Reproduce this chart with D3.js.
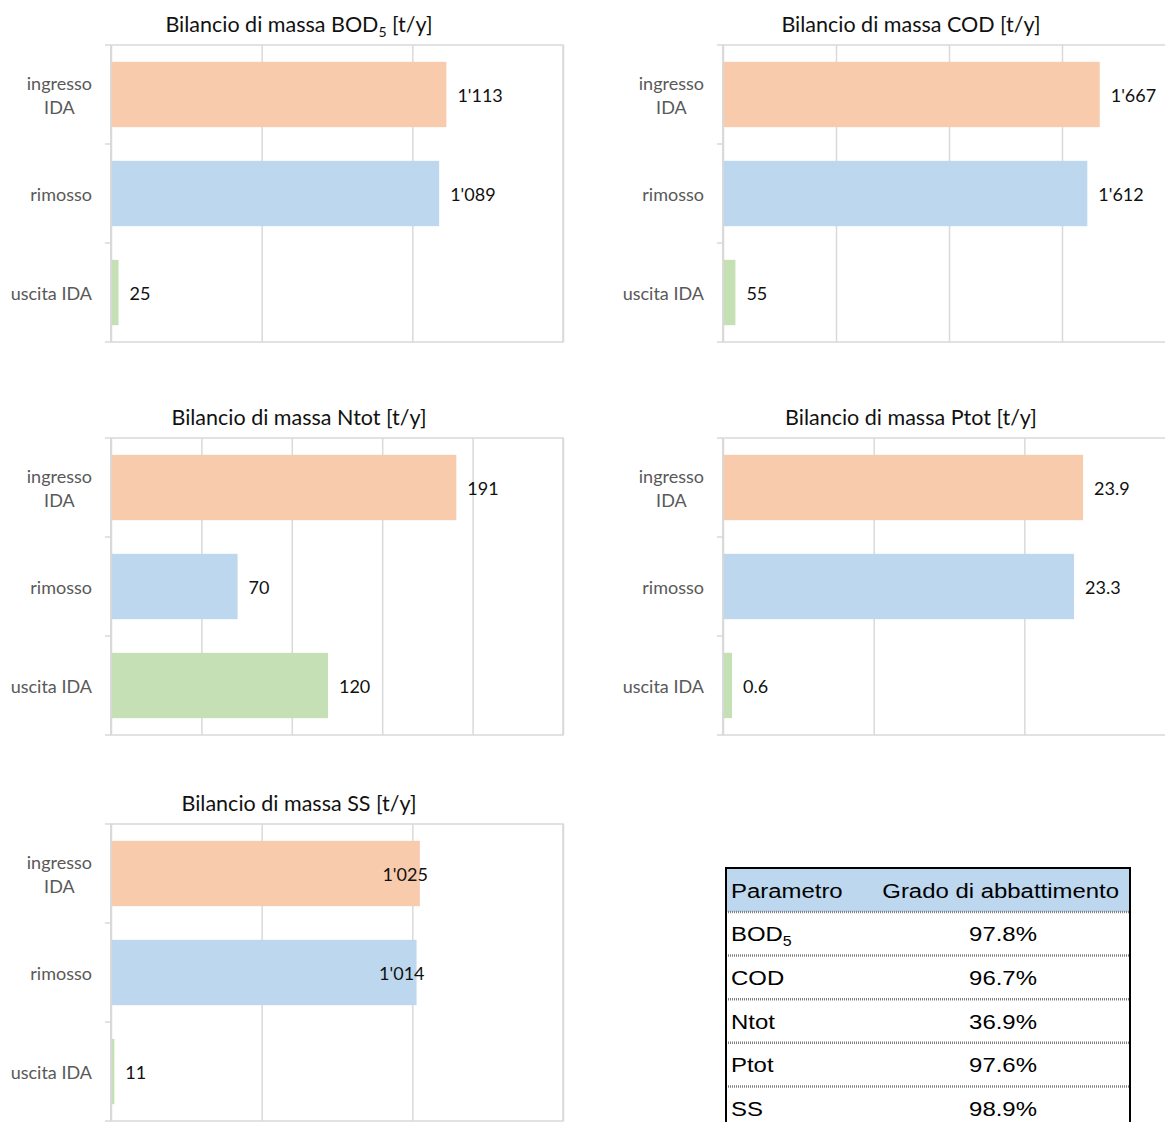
<!DOCTYPE html>
<html>
<head>
<meta charset="utf-8">
<script src="https://cdn.jsdelivr.net/npm/d3@7"></script>
<style>
  body { margin: 0; background: #fff; }
  svg { display: block; }
  .title { font-family: Lato, "Open Sans", sans-serif; font-size: 21.5px; fill: #111; }
  .cat { font-family: Lato, "Open Sans", sans-serif; font-size: 18px; fill: #595959; }
  .lbl { font-family: Lato, "Open Sans", sans-serif; font-size: 18px; fill: #111; }
  .tbl { font-family: "Liberation Sans", Arial, sans-serif; font-size: 21px; fill: #000; }
</style>
</head>
<body>
<div id="chart"></div>
<script>
// categories (multi-line labels)
var categories = ["ingresso IDA", "rimosso", "uscita IDA"];
var categoryLines = [["ingresso", "IDA"], ["rimosso"], ["uscita IDA"]];
var colors = ["#f8cbad", "#bdd7ee", "#c5e0b4"];

// values [t/y]
var bod5 = [1113, 1089, 25];
var cod = [1667, 1612, 55];
var ntot = [191, 70, 120];
var ptot = [23.9, 23.3, 0.6];
var ss = [1025, 1014, 11];

// axis maxima and tick steps
var axisMax = [1500, 2000, 250, 30, 1500];
var axisStep = [500, 500, 50, 10, 500];

// table
var tableParams = ["BOD5", "COD", "Ntot", "Ptot", "SS"];
var tableValues = [97.8, 96.7, 36.9, 97.6, 98.9];

var W = 1165, H = 1122;
var plotW = 452, plotH = 297;

var loc = d3.formatLocale({decimal: ".", thousands: "'", grouping: [3], currency: ["", ""]});
var fmtInt = loc.format(",.0f");
var fmtDec = loc.format(".1f");

var charts = [
  {title: "Bilancio di massa BOD", sub: "5", rest: " [t/y]", values: bod5, fmt: fmtInt, x0: 111, y0: 45, inside: false},
  {title: "Bilancio di massa COD [t/y]", values: cod, fmt: fmtInt, x0: 723, y0: 45, inside: false},
  {title: "Bilancio di massa Ntot [t/y]", values: ntot, fmt: fmtInt, x0: 111, y0: 438, inside: false},
  {title: "Bilancio di massa Ptot  [t/y]", values: ptot, fmt: fmtDec, x0: 723, y0: 438, inside: false},
  {title: "Bilancio di massa SS [t/y]", values: ss, fmt: fmtInt, x0: 111, y0: 824, inside: true}
];

var svg = d3.select("#chart").append("svg")
  .attr("width", W).attr("height", H);

svg.append("rect").attr("width", W).attr("height", H).attr("fill", "#fff");

charts.forEach(function(c, ci) {
  var g = svg.append("g").attr("transform", "translate(" + c.x0 + "," + c.y0 + ")");
  var x = d3.scaleLinear().domain([0, axisMax[ci]]).range([0, plotW]);
  var y = d3.scaleBand().domain(categories).range([0, plotH]).paddingInner(0.34).paddingOuter(0.17);

  // gridlines
  var ticks = d3.range(0, axisMax[ci] + axisStep[ci] / 2, axisStep[ci]);
  g.append("g")
    .call(d3.axisBottom(x).tickValues(ticks).tickSize(-plotH).tickFormat(""))
    .attr("transform", "translate(0," + plotH + ")")
    .call(function(a) {
      a.select(".domain").remove();
      a.selectAll("line").attr("stroke", "#d9d9d9").attr("stroke-width", 1.5);
    });

  // plot border (top / bottom / right)
  g.append("rect")
    .attr("x", 0).attr("y", 0).attr("width", plotW).attr("height", plotH)
    .attr("fill", "none").attr("stroke", "#d9d9d9").attr("stroke-width", 1.5);

  // category tick marks
  var step = y.step();
  d3.range(0, 4).forEach(function(i) {
    g.append("line")
      .attr("x1", -6).attr("x2", 0)
      .attr("y1", i * step).attr("y2", i * step)
      .attr("stroke", "#d9d9d9").attr("stroke-width", 1.5);
  });

  // bars
  g.selectAll("rect.bar")
    .data(c.values)
    .enter().append("rect")
    .attr("class", "bar")
    .attr("x", 0)
    .attr("y", function(d, i) { return y(categories[i]); })
    .attr("width", function(d) { return x(d); })
    .attr("height", y.bandwidth())
    .attr("fill", function(d, i) { return colors[i]; });

  // axis line on top of bars
  g.append("line").attr("x1", 0).attr("x2", 0).attr("y1", 0).attr("y2", plotH)
    .attr("stroke", "#d9d9d9").attr("stroke-width", 1.5);

  // data labels
  g.selectAll("text.lbl")
    .data(c.values)
    .enter().append("text")
    .attr("class", "lbl")
    .attr("x", function(d, i) { return c.inside && i < 2 ? x(d) + 8 : x(d) + 11; })
    .attr("y", function(d, i) { return y(categories[i]) + y.bandwidth() / 2 + 1; })
    .attr("dy", "0.35em")
    .attr("text-anchor", function(d, i) { return c.inside && i < 2 ? "end" : "start"; })
    .text(function(d) { return c.fmt(d); });

  // category labels
  categories.forEach(function(cat, i) {
    var lines = categoryLines[i];
    var cy = y(cat) + y.bandwidth() / 2 + 1;
    var t = g.append("text").attr("class", "cat");
    lines.forEach(function(l, j) {
      t.append("tspan").text(l)
        .attr("y", cy + (j - (lines.length - 1) / 2) * 24)
        .attr("dy", "0.35em");
    });
    var maxW = 0;
    t.selectAll("tspan").each(function() { maxW = Math.max(maxW, this.getComputedTextLength()); });
    t.attr("text-anchor", "middle");
    t.selectAll("tspan").attr("x", -19 - maxW / 2);
  });

  // title
  var tt = svg.append("text").attr("class", "title")
    .attr("x", c.x0 + 188).attr("y", c.y0 - 21).attr("dy", "0.35em")
    .attr("text-anchor", "middle");
  tt.append("tspan").text(c.title);
  if (c.sub) {
    tt.append("tspan").text(c.sub).attr("font-size", "14px").attr("dy", "5");
    tt.append("tspan").text(c.rest).attr("dy", "-5");
  }
});

// table
var tx = 726, tw = 404, tTop = 868, hdrH = 44, rowH = 43.6;
var sx = 1.14; // Arial in the reference is stretched horizontally
var tg = svg.append("g");
tg.append("rect").attr("x", tx).attr("y", tTop).attr("width", tw).attr("height", hdrH)
  .attr("fill", "#bdd7ee");

function cellText(x, y, anchor) {
  return tg.append("text").attr("class", "tbl")
    .attr("transform", "translate(" + x + "," + y + ") scale(" + sx + ",1)")
    .attr("dy", "0.36em").attr("text-anchor", anchor);
}

cellText(tx + 5, tTop + hdrH / 2, "start").text("Parametro");
cellText(tx + 393, tTop + hdrH / 2, "end").text("Grado di abbattimento");

var fmtPct = d3.format(".1%");
tableParams.forEach(function(p, i) {
  var ry = tTop + hdrH + i * rowH;
  tg.append("line").attr("x1", tx).attr("x2", tx + tw).attr("y1", ry).attr("y2", ry)
    .attr("stroke", "#7f7f7f").attr("stroke-width", 2.5).attr("stroke-dasharray", "1,1");
  var t = cellText(tx + 5, ry + rowH / 2, "start");
  var m = p.match(/^(.*?)(\d)$/);
  if (m) {
    t.append("tspan").text(m[1]);
    t.append("tspan").text(m[2]).attr("font-size", "14px").attr("dy", "5");
  } else {
    t.text(p);
  }
  cellText(tx + 277, ry + rowH / 2, "middle").text(fmtPct(tableValues[i] / 100));
});

// outer border of table
tg.append("line").attr("x1", tx - 1).attr("x2", tx + tw + 1).attr("y1", tTop).attr("y2", tTop)
  .attr("stroke", "#000").attr("stroke-width", 2);
tg.append("line").attr("x1", tx).attr("x2", tx).attr("y1", tTop).attr("y2", H)
  .attr("stroke", "#000").attr("stroke-width", 2);
tg.append("line").attr("x1", tx + tw).attr("x2", tx + tw).attr("y1", tTop).attr("y2", H)
  .attr("stroke", "#000").attr("stroke-width", 2);
</script>
</body>
</html>
